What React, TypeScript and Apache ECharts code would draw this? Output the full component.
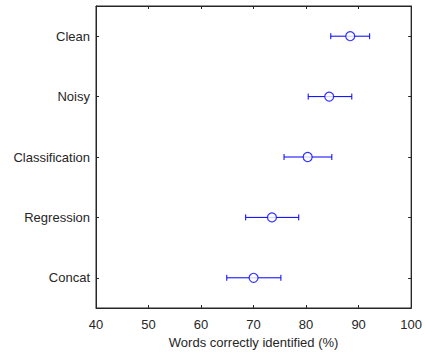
import React, { useEffect, useRef } from "react";
import * as echarts from "echarts";

const categories = ["Clean", "Noisy", "Classification", "Regression", "Concat"];
const means = [88.4, 84.4, 80.3, 73.5, 70.0];
const lows = [84.7, 80.4, 75.8, 68.5, 64.9];
const highs = [92.1, 88.7, 84.9, 78.6, 75.2];
const xTicks = [40, 50, 60, 70, 80, 90, 100];

const FONT = "Liberation Sans";
const TXT = "#262626";
const BLUE = "#0000ff";

export default function App() {
  const ref = useRef<HTMLDivElement>(null);
  useEffect(() => {
    if (!ref.current) return;
    const chart = echarts.init(ref.current, null, { renderer: "svg" });
    const tick = { show: true, inside: true, length: 3, lineStyle: { color: TXT } };
    const xBase = {
      type: "value",
      min: xTicks[0],
      max: xTicks[xTicks.length - 1],
      interval: 10,
      splitLine: { show: false },
      axisLine: { show: true, onZero: false, lineStyle: { color: TXT, width: 1 } },
      axisTick: tick,
    };
    const yBase = {
      type: "category",
      data: categories,
      inverse: true,
      boundaryGap: true,
      splitLine: { show: false },
      axisLine: { show: true, onZero: false, lineStyle: { color: TXT, width: 1 } },
      axisTick: { ...tick, alignWithLabel: true },
    };
    chart.setOption({
      animation: false,
      grid: {
        left: 96,
        right: 13,
        top: 6,
        bottom: 44,
        containLabel: false,
        show: true,
        borderColor: TXT,
        borderWidth: 1,
        backgroundColor: "transparent",
      },
      xAxis: [
        {
          ...xBase,
          position: "bottom",
          axisLabel: { color: TXT, fontSize: 13, fontFamily: FONT, margin: 10 },
          name: "Words correctly identified (%)",
          nameLocation: "middle",
          nameGap: 28,
          nameTextStyle: { color: TXT, fontSize: 13, fontFamily: FONT },
        },
        { ...xBase, position: "top", axisLabel: { show: false } },
      ],
      yAxis: [
        {
          ...yBase,
          position: "left",
          axisLabel: { color: TXT, fontSize: 13, fontFamily: FONT, margin: 6 },
        },
        { ...yBase, position: "right", axisLabel: { show: false } },
      ],
      series: [
        {
          type: "custom",
          xAxisIndex: 0,
          yAxisIndex: 0,
          data: categories.map((c, i) => [i, lows[i], highs[i]]),
          encode: { x: [1, 2], y: 0 },
          renderItem: (params: any, api: any) => {
            const cat = api.value(0);
            const p1 = api.coord([api.value(1), cat]);
            const p2 = api.coord([api.value(2), cat]);
            const h = 3;
            const style = { stroke: BLUE, lineWidth: 1, fill: "none" };
            return {
              type: "group",
              children: [
                { type: "line", shape: { x1: p1[0], y1: p1[1], x2: p2[0], y2: p2[1] }, style },
                { type: "line", shape: { x1: p1[0], y1: p1[1] - h, x2: p1[0], y2: p1[1] + h }, style },
                { type: "line", shape: { x1: p2[0], y1: p2[1] - h, x2: p2[0], y2: p2[1] + h }, style },
              ],
            };
          },
          z: 2,
        },
        {
          type: "scatter",
          xAxisIndex: 0,
          yAxisIndex: 0,
          symbol: "circle",
          symbolSize: 9,
          itemStyle: { color: "#ffffff", borderColor: BLUE, borderWidth: 1.2 },
          data: categories.map((c, i) => [means[i], c]),
          z: 3,
        },
      ],
    });
    return () => chart.dispose();
  }, []);
  return (
    <div
      ref={ref}
      style={{ position: "absolute", left: 0, top: 0, width: 425, height: 354 }}
    />
  );
}
